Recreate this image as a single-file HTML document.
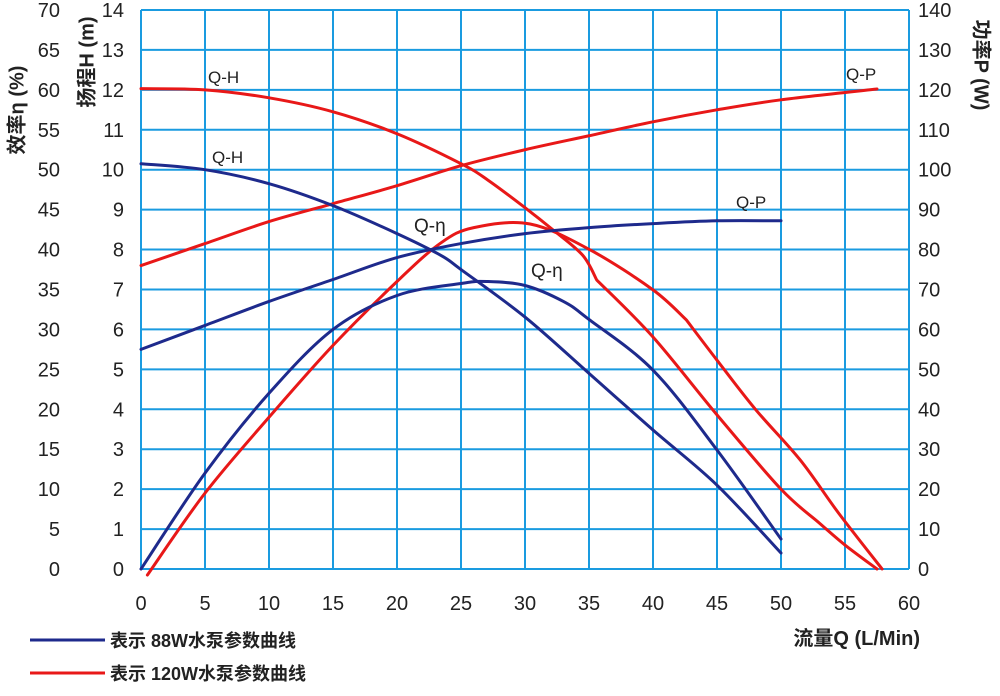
<!DOCTYPE html>
<html><head><meta charset="utf-8"><style>
body{margin:0;background:#fff;}
svg text{font-family:"Liberation Sans","Noto Sans CJK SC",sans-serif;}
</style></head><body>
<svg id="s" width="1000" height="691" xmlns="http://www.w3.org/2000/svg">
<g id="grid" stroke="#1a9be0" stroke-width="2"></g>
<g id="curves" fill="none" stroke-width="3" stroke-linejoin="round" stroke-linecap="round"></g>
<g id="labels" font-size="20" fill="#222"></g>
<text x="18" y="110" font-size="20" font-weight="bold" fill="#222" transform="rotate(-90 18 110)" text-anchor="middle" dominant-baseline="middle">效率η (%)</text>
<text x="88" y="62" font-size="20" font-weight="bold" fill="#222" transform="rotate(-90 88 62)" text-anchor="middle" dominant-baseline="middle">扬程H (m)</text>
<text x="980" y="65" font-size="20" font-weight="bold" fill="#222" transform="rotate(90 980 65)" text-anchor="middle" dominant-baseline="middle">功率P (W)</text>
<text x="920" y="645" font-size="20" font-weight="bold" fill="#222" text-anchor="end">流量Q (L/Min)</text>
<line x1="30" y1="640" x2="105" y2="640" stroke="#1e2a8c" stroke-width="3"/>
<text x="110" y="647" font-size="18" font-weight="bold" fill="#222">表示 88W水泵参数曲线</text>
<line x1="30" y1="673" x2="105" y2="673" stroke="#e81818" stroke-width="3"/>
<text x="110" y="680" font-size="18" font-weight="bold" fill="#222">表示 120W水泵参数曲线</text>
<g font-size="17" fill="#222">
<text x="208" y="83">Q-H</text><text x="212" y="163">Q-H</text>
<text x="846" y="80">Q-P</text><text x="736" y="208">Q-P</text>
<text x="414" y="232" font-size="19">Q-η</text><text x="531" y="277" font-size="19">Q-η</text>
</g>
</svg>
<script>
const X=q=>141+12.8*q, Y=h=>569-39.93*h;
const g=document.getElementById('grid'),L=document.getElementById('labels'),C=document.getElementById('curves');
const ns='http://www.w3.org/2000/svg';
function el(p,t,a,txt){const e=document.createElementNS(ns,t);for(const k in a)e.setAttribute(k,a[k]);if(txt!=null)e.textContent=txt;p.appendChild(e);}
for(let i=0;i<=12;i++)el(g,'line',{x1:X(i*5),x2:X(i*5),y1:Y(14),y2:Y(0)});
for(let j=0;j<=14;j++)el(g,'line',{x1:X(0),x2:X(60),y1:Y(j),y2:Y(j)});
for(let i=0;i<=12;i++)el(L,'text',{x:X(i*5),y:610,'text-anchor':'middle'},i*5);
for(let j=0;j<=14;j++){const y=Y(j)+7;
 el(L,'text',{x:124,y:y,'text-anchor':'end'},j);
 el(L,'text',{x:60,y:y,'text-anchor':'end'},j*5);
 el(L,'text',{x:918,y:y},j*10);}
function cr(pts,move){let d=(move?'M':'L')+X(pts[0][0])+','+Y(pts[0][1]);
 for(let i=0;i<pts.length-1;i++){const p0=pts[Math.max(0,i-1)],p1=pts[i],p2=pts[i+1],p3=pts[Math.min(pts.length-1,i+2)];
  const a=[X(p1[0])+(X(p2[0])-X(p0[0]))/6,Y(p1[1])+(Y(p2[1])-Y(p0[1]))/6],b=[X(p2[0])-(X(p3[0])-X(p1[0]))/6,Y(p2[1])-(Y(p3[1])-Y(p1[1]))/6];
  d+=' C'+a+' '+b+' '+X(p2[0])+','+Y(p2[1]);}return d;}
function line(c,segs){let d='';segs.forEach((s,i)=>d+=cr(s,i==0)+' ');el(C,'path',{d:d,stroke:c});}
const R='#e81818',B='#1e2a8c';
line(R,[[[0,12.03],[5,12.0],[10,11.8],[15,11.45],[20,10.9],[25,10.15],[27.1,9.74],[30,9.05],[32.2,8.49],[34.5,7.86],[35.6,7.24]],[[35.6,7.24],[40,5.81],[45,3.86],[50,2.0],[53,1.15],[55,0.6],[57.5,0]]]);
line(R,[[[0.5,-0.15],[5,1.9],[10,3.8],[15,5.6],[20,7.2],[23.4,8.16],[26,8.55],[30.4,8.64],[35.1,7.99],[40,6.99],[42.6,6.24]],[[42.6,6.24],[45,5.23],[48,4.0],[51.5,2.73],[54.5,1.4],[57.9,0]]]);
line(R,[[[0,7.6],[5,8.15],[10,8.7],[15,9.15],[20,9.6],[25,10.1],[30,10.5],[35,10.85],[40,11.2],[45,11.5],[50,11.75],[57.5,12.02]]]);
line(B,[[[0,10.15],[5,10.0],[10,9.65],[15,9.1],[20,8.4],[23.4,7.86],[25,7.5],[30,6.31],[35,4.9],[40,3.48],[45,2.1],[50,0.4]]]);
line(B,[[[0,0],[5,2.4],[10,4.4],[15,6.0],[20,6.85],[25,7.15],[27,7.2],[30,7.1],[33,6.7],[35,6.25],[40,4.98],[45,2.98],[50,0.75]]]);
line(B,[[[0,5.5],[5,6.1],[10,6.7],[15,7.25],[20,7.8],[25,8.15],[30,8.4],[35,8.55],[40,8.65],[45,8.72],[50,8.72]]]);
</script>
</body></html>
